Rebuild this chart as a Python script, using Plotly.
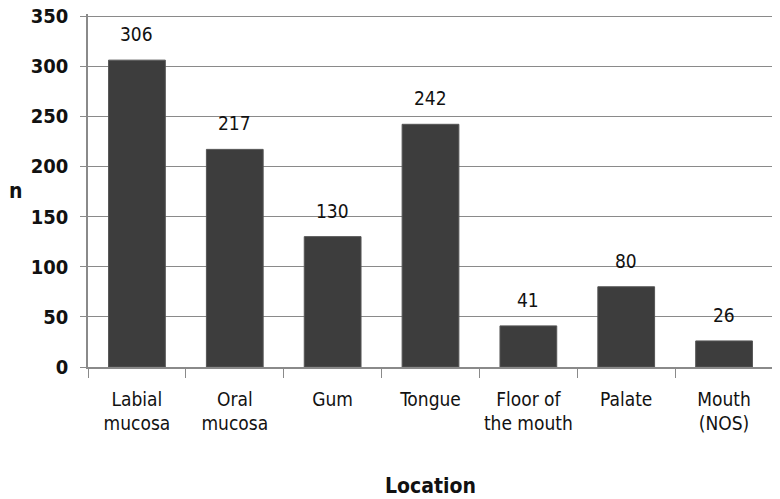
import plotly.graph_objects as go

categories = ["Labial<br>mucosa", "Oral<br>mucosa", "Gum", "Tongue", "Floor of<br>the mouth", "Palate", "Mouth<br>(NOS)"]
values = [306, 217, 130, 242, 41, 80, 26]
y_ticks = [0, 50, 100, 150, 200, 250, 300, 350]

FONT = "DejaVu Sans Condensed, DejaVu Sans, sans-serif"

fig = go.Figure()
fig.add_trace(go.Bar(
    x=categories, y=values,
    marker=dict(color="#3d3d3d", line=dict(color="#555555", width=1)),
    width=0.58,
))
for c, v in zip(categories, values):
    fig.add_annotation(x=c, y=v, text=str(v), showarrow=False, yshift=26,
                       font=dict(family=FONT, size=19, color="#111111"))

fig.add_annotation(text="n", xref="paper", yref="paper", x=-0.106, y=0.5,
                   showarrow=False, xanchor="center", yanchor="middle",
                   font=dict(family=FONT, size=21, weight="bold", color="#111111"))
fig.add_annotation(text="Location", xref="paper", yref="paper", x=0.5, y=-0.336,
                   showarrow=False, xanchor="center", yanchor="middle",
                   font=dict(family=FONT, size=21, weight="bold", color="#111111"))

fig.update_layout(
    width=780, height=499,
    margin=dict(l=80, r=15, t=6, b=140),
    paper_bgcolor="white", plot_bgcolor="white",
    showlegend=False,
    font=dict(family=FONT, color="#111111"),
)
fig.update_xaxes(
    showline=True, linecolor="#8a8a8a", linewidth=1.5,
    ticks="outside", tickson="boundaries", ticklen=9, tickcolor="#8a8a8a",
    tickangle=0, automargin=False, ticklabelstandoff=14,
    tickfont=dict(family=FONT, size=19, color="#111111"),
    showgrid=False,
)
fig.update_yaxes(
    range=[0, 352], tickvals=y_ticks,
    showline=True, linecolor="#8a8a8a", linewidth=1.5,
    showgrid=True, gridcolor="#8a8a8a", gridwidth=1.2,
    ticks="outside", ticklen=6, tickcolor="#8a8a8a",
    tickfont=dict(family=FONT, size=20, weight="bold", color="#111111"),
    ticklabelstandoff=8, automargin=False, ticklabeloverflow="allow",
    zeroline=False,
)
fig.write_html("out.html")
